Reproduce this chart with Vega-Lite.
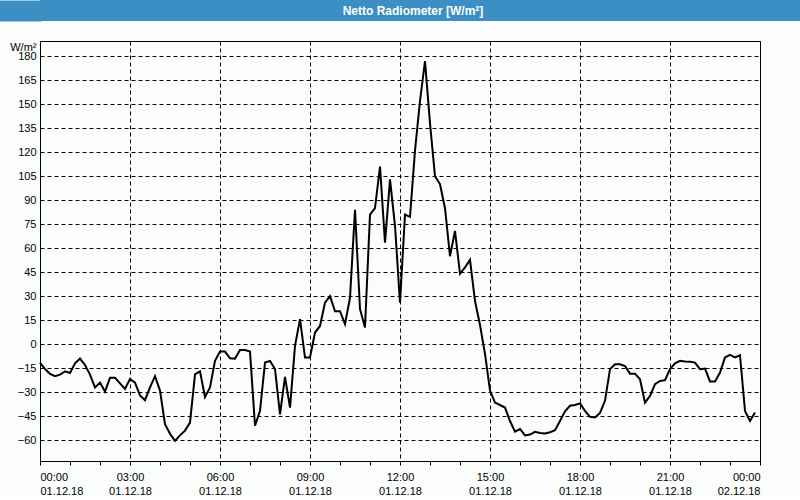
{
  "$schema": "https://vega.github.io/schema/vega-lite/v6.json",
  "background": "#fbfdfc",
  "padding": 0,
  "autosize": {"type": "pad"},
  "spacing": 19,
  "config": {"font": "Liberation Sans"},
  "vconcat": [
    {
      "width": 760,
      "height": 21,
      "view": {"fill": "#3b8fc4", "stroke": null},
      "data": {"values": [{"title": "Netto Radiometer [W/m²]"}]},
      "mark": {"type": "text", "color": "white", "fontWeight": "bold", "fontSize": 12, "font": "Liberation Sans", "baseline": "middle", "align": "center", "dx": -7},
      "encoding": {
        "text": {"field": "title", "type": "nominal"},
        "y": {"datum": 0, "type": "quantitative", "scale": {"domain": [-1, 1]},
          "axis": {"domain": true, "domainColor": "#3b8fc4", "domainWidth": 82, "offset": 40, "ticks": false, "labels": false, "grid": false, "title": null}}
      }
    },
    {
      "width": 720,
      "height": 420,
      "view": {"stroke": "black", "strokeWidth": 1},
      "data": {"values": [
        {"t": "2018-12-01T00:00", "v": -11.5},
        {"t": "2018-12-01T00:10", "v": -15.5},
        {"t": "2018-12-01T00:20", "v": -18.5},
        {"t": "2018-12-01T00:30", "v": -20},
        {"t": "2018-12-01T00:40", "v": -19},
        {"t": "2018-12-01T00:50", "v": -17},
        {"t": "2018-12-01T01:00", "v": -18},
        {"t": "2018-12-01T01:10", "v": -12},
        {"t": "2018-12-01T01:20", "v": -9},
        {"t": "2018-12-01T01:30", "v": -13},
        {"t": "2018-12-01T01:40", "v": -19},
        {"t": "2018-12-01T01:50", "v": -27},
        {"t": "2018-12-01T02:00", "v": -24},
        {"t": "2018-12-01T02:10", "v": -29.6},
        {"t": "2018-12-01T02:20", "v": -21},
        {"t": "2018-12-01T02:30", "v": -21},
        {"t": "2018-12-01T02:40", "v": -24.5},
        {"t": "2018-12-01T02:50", "v": -28},
        {"t": "2018-12-01T03:00", "v": -21.7},
        {"t": "2018-12-01T03:10", "v": -24},
        {"t": "2018-12-01T03:20", "v": -32},
        {"t": "2018-12-01T03:30", "v": -35},
        {"t": "2018-12-01T03:40", "v": -27},
        {"t": "2018-12-01T03:50", "v": -20},
        {"t": "2018-12-01T04:00", "v": -29},
        {"t": "2018-12-01T04:10", "v": -50},
        {"t": "2018-12-01T04:20", "v": -56},
        {"t": "2018-12-01T04:30", "v": -60.4},
        {"t": "2018-12-01T04:40", "v": -57},
        {"t": "2018-12-01T04:50", "v": -54},
        {"t": "2018-12-01T05:00", "v": -49},
        {"t": "2018-12-01T05:10", "v": -18.8},
        {"t": "2018-12-01T05:20", "v": -17},
        {"t": "2018-12-01T05:30", "v": -33},
        {"t": "2018-12-01T05:40", "v": -27},
        {"t": "2018-12-01T05:50", "v": -10.4},
        {"t": "2018-12-01T06:00", "v": -4.6},
        {"t": "2018-12-01T06:10", "v": -4.6},
        {"t": "2018-12-01T06:20", "v": -8.8},
        {"t": "2018-12-01T06:30", "v": -9},
        {"t": "2018-12-01T06:40", "v": -3.6},
        {"t": "2018-12-01T06:50", "v": -3.6},
        {"t": "2018-12-01T07:00", "v": -4.6},
        {"t": "2018-12-01T07:10", "v": -51},
        {"t": "2018-12-01T07:20", "v": -41.7},
        {"t": "2018-12-01T07:30", "v": -11.5},
        {"t": "2018-12-01T07:40", "v": -10.4},
        {"t": "2018-12-01T07:50", "v": -15.6},
        {"t": "2018-12-01T08:00", "v": -43.8},
        {"t": "2018-12-01T08:10", "v": -20.4},
        {"t": "2018-12-01T08:20", "v": -39.6},
        {"t": "2018-12-01T08:30", "v": -1},
        {"t": "2018-12-01T08:40", "v": 15.6},
        {"t": "2018-12-01T08:50", "v": -8.3},
        {"t": "2018-12-01T09:00", "v": -8.3},
        {"t": "2018-12-01T09:10", "v": 7.3},
        {"t": "2018-12-01T09:20", "v": 11.4},
        {"t": "2018-12-01T09:30", "v": 26},
        {"t": "2018-12-01T09:40", "v": 30},
        {"t": "2018-12-01T09:50", "v": 20.6},
        {"t": "2018-12-01T10:00", "v": 20.6},
        {"t": "2018-12-01T10:10", "v": 12.5},
        {"t": "2018-12-01T10:20", "v": 29},
        {"t": "2018-12-01T10:30", "v": 84},
        {"t": "2018-12-01T10:40", "v": 22},
        {"t": "2018-12-01T10:50", "v": 10.4},
        {"t": "2018-12-01T11:00", "v": 81},
        {"t": "2018-12-01T11:10", "v": 85},
        {"t": "2018-12-01T11:20", "v": 111},
        {"t": "2018-12-01T11:30", "v": 63.5},
        {"t": "2018-12-01T11:40", "v": 103},
        {"t": "2018-12-01T11:50", "v": 74},
        {"t": "2018-12-01T12:00", "v": 26},
        {"t": "2018-12-01T12:10", "v": 81},
        {"t": "2018-12-01T12:20", "v": 79.6},
        {"t": "2018-12-01T12:30", "v": 121},
        {"t": "2018-12-01T12:40", "v": 152},
        {"t": "2018-12-01T12:50", "v": 177},
        {"t": "2018-12-01T13:00", "v": 138},
        {"t": "2018-12-01T13:10", "v": 105},
        {"t": "2018-12-01T13:20", "v": 100},
        {"t": "2018-12-01T13:30", "v": 85},
        {"t": "2018-12-01T13:40", "v": 55},
        {"t": "2018-12-01T13:50", "v": 70.8},
        {"t": "2018-12-01T14:00", "v": 44},
        {"t": "2018-12-01T14:10", "v": 48},
        {"t": "2018-12-01T14:20", "v": 52.7},
        {"t": "2018-12-01T14:30", "v": 27},
        {"t": "2018-12-01T14:40", "v": 12},
        {"t": "2018-12-01T14:50", "v": -6},
        {"t": "2018-12-01T15:00", "v": -29},
        {"t": "2018-12-01T15:10", "v": -36.5},
        {"t": "2018-12-01T15:20", "v": -38},
        {"t": "2018-12-01T15:30", "v": -39.6},
        {"t": "2018-12-01T15:40", "v": -48},
        {"t": "2018-12-01T15:50", "v": -54.6},
        {"t": "2018-12-01T16:00", "v": -53},
        {"t": "2018-12-01T16:10", "v": -57},
        {"t": "2018-12-01T16:20", "v": -56.5},
        {"t": "2018-12-01T16:30", "v": -54.8},
        {"t": "2018-12-01T16:40", "v": -55.5},
        {"t": "2018-12-01T16:50", "v": -55.8},
        {"t": "2018-12-01T17:00", "v": -55},
        {"t": "2018-12-01T17:10", "v": -53.8},
        {"t": "2018-12-01T17:20", "v": -48},
        {"t": "2018-12-01T17:30", "v": -42},
        {"t": "2018-12-01T17:40", "v": -38.5},
        {"t": "2018-12-01T17:50", "v": -38},
        {"t": "2018-12-01T18:00", "v": -37},
        {"t": "2018-12-01T18:10", "v": -41.7},
        {"t": "2018-12-01T18:20", "v": -45.4},
        {"t": "2018-12-01T18:30", "v": -45.8},
        {"t": "2018-12-01T18:40", "v": -43},
        {"t": "2018-12-01T18:50", "v": -35.4},
        {"t": "2018-12-01T19:00", "v": -15.6},
        {"t": "2018-12-01T19:10", "v": -12.5},
        {"t": "2018-12-01T19:20", "v": -12.5},
        {"t": "2018-12-01T19:30", "v": -13.6},
        {"t": "2018-12-01T19:40", "v": -18.4},
        {"t": "2018-12-01T19:50", "v": -18.4},
        {"t": "2018-12-01T20:00", "v": -21.9},
        {"t": "2018-12-01T20:10", "v": -36.5},
        {"t": "2018-12-01T20:20", "v": -32.3},
        {"t": "2018-12-01T20:30", "v": -25},
        {"t": "2018-12-01T20:40", "v": -23},
        {"t": "2018-12-01T20:50", "v": -22.5},
        {"t": "2018-12-01T21:00", "v": -15.6},
        {"t": "2018-12-01T21:10", "v": -12},
        {"t": "2018-12-01T21:20", "v": -10.4},
        {"t": "2018-12-01T21:30", "v": -10.8},
        {"t": "2018-12-01T21:40", "v": -11},
        {"t": "2018-12-01T21:50", "v": -11.5},
        {"t": "2018-12-01T22:00", "v": -15.6},
        {"t": "2018-12-01T22:10", "v": -15.2},
        {"t": "2018-12-01T22:20", "v": -23.3},
        {"t": "2018-12-01T22:30", "v": -23.3},
        {"t": "2018-12-01T22:40", "v": -17.7},
        {"t": "2018-12-01T22:50", "v": -8.3},
        {"t": "2018-12-01T23:00", "v": -6.7},
        {"t": "2018-12-01T23:10", "v": -8.3},
        {"t": "2018-12-01T23:20", "v": -6.9},
        {"t": "2018-12-01T23:30", "v": -41.7},
        {"t": "2018-12-01T23:40", "v": -48},
        {"t": "2018-12-01T23:50", "v": -42.7}
      ]},
      "mark": {"type": "line", "color": "black", "strokeWidth": 2},
      "encoding": {
        "x": {
          "field": "t", "type": "temporal",
          "scale": {"domain": [{"year": 2018, "month": 12, "date": 1, "hours": 0}, {"year": 2018, "month": 12, "date": 2, "hours": 0}], "nice": false},
          "axis": {
            "title": null,
            "tickCount": 24,
            "labelExpr": "hours(datum.value) % 3 == 0 ? [timeFormat(datum.value, '%H:%M'), timeFormat(datum.value, '%d.%m.%y')] : ''",
            "labelOverlap": false,
            "labelBaseline": "top",
            "labelLineHeight": 14,
            "domainColor": "black",
            "tickColor": "black", "tickSize": 4,
            "labelColor": "black", "labelFontSize": 11,
            "labelPadding": 6,
            "grid": true, "gridColor": "black", "gridDash": [4, 3],
            "gridOpacity": {"condition": {"test": "hours(datum.value) % 3 == 0", "value": 1}, "value": 0}
          }
        },
        "y": {
          "field": "v", "type": "quantitative",
          "scale": {"domain": [-73, 189.5], "nice": false, "zero": false},
          "axis": {
            "values": [-60, -45, -30, -15, 0, 15, 30, 45, 60, 75, 90, 105, 120, 135, 150, 165, 180],
            "title": "W/m²", "titleAngle": 0, "titleAlign": "right", "titleBaseline": "middle",
            "titleX": -4, "titleY": 6, "titleFontWeight": "normal", "titleFontSize": 11, "titleColor": "black",
            "domainColor": "black", "ticks": false,
            "labelColor": "black", "labelFontSize": 11, "labelPadding": 4,
            "grid": true, "gridColor": "black", "gridDash": [4, 3]
          }
        }
      }
    }
  ]
}
